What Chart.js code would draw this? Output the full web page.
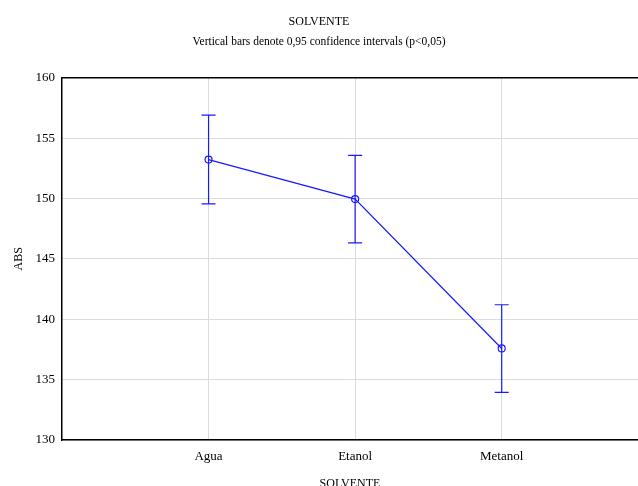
<!DOCTYPE html>
<html>
<head>
<meta charset="utf-8">
<script src="https://cdn.jsdelivr.net/npm/chart.js@4.4.0/dist/chart.umd.min.js"></script>
<style>
  html, body { margin: 0; padding: 0; background: #fff; overflow: hidden; }
  #wrap { width: 638px; height: 486px; overflow: hidden; }
  #box { width: 638px; height: 500px; }
</style>
</head>
<body>
<div id="wrap"><div id="box"><canvas id="c"></canvas></div></div>
<script>
const categories = ["Agua", "Etanol", "Metanol"];
const means = [153.22, 149.95, 137.58];
const lower = [149.55, 146.32, 133.95];
const upper = [156.90, 153.57, 141.20];
const yTicks = [130, 135, 140, 145, 150, 155, 160];

const BLUE = "#1a1aff";
const FONT = "'Liberation Serif', 'Times New Roman', serif";

const errorBars = {
  id: "errorBars",
  afterDatasetsDraw(chart) {
    const ctx = chart.ctx;
    const xs = chart.scales.x, ys = chart.scales.y;
    ctx.save();
    ctx.strokeStyle = BLUE;
    ctx.lineWidth = 1.2;
    const cap = 7;
    categories.forEach((c, i) => {
      const x = xs.getPixelForValue(i);
      const yl = ys.getPixelForValue(lower[i]);
      const yu = ys.getPixelForValue(upper[i]);
      ctx.beginPath();
      ctx.moveTo(x, yu); ctx.lineTo(x, yl);
      ctx.moveTo(x - cap, yu); ctx.lineTo(x + cap, yu);
      ctx.moveTo(x - cap, yl); ctx.lineTo(x + cap, yl);
      ctx.stroke();
    });
    ctx.restore();
  }
};

const topBorder = {
  id: "topBorder",
  afterDraw(chart) {
    const {ctx, chartArea} = chart;
    ctx.save();
    ctx.strokeStyle = "#000";
    ctx.lineWidth = 1.5;
    ctx.beginPath();
    ctx.moveTo(chartArea.left, chartArea.top);
    ctx.lineTo(chartArea.right, chartArea.top);
    ctx.stroke();
    ctx.restore();
  }
};

new Chart(document.getElementById("c"), {
  type: "line",
  data: {
    datasets: [{
      data: categories.map((c, i) => ({ x: i, y: means[i] })),
      borderColor: BLUE,
      borderWidth: 1.2,
      pointStyle: "circle",
      pointRadius: 3.5,
      pointBorderWidth: 1.2,
      pointBorderColor: BLUE,
      pointBackgroundColor: "rgba(0,0,0,0)",
      tension: 0
    }]
  },
  options: {
    responsive: true,
    maintainAspectRatio: false,
    animation: false,
    layout: { padding: 0, autoPadding: false },
    plugins: {
      legend: { display: false },
      tooltip: { enabled: false },
      title: {
        display: true,
        text: "SOLVENTE",
        color: "#000",
        font: { family: FONT, size: 12, weight: "normal", lineHeight: 1.2 },
        padding: { top: 15, bottom: 0 }
      },
      subtitle: {
        display: true,
        text: "Vertical bars denote 0,95 confidence intervals (p<0,05)",
        color: "#000",
        font: { family: FONT, size: 11.5, weight: "normal", lineHeight: 1.2 },
        padding: { top: 6, bottom: 28.5 }
      }
    },
    scales: {
      x: {
        type: "linear",
        min: -1,
        max: 2.93,
        afterBuildTicks(scale) {
          scale.ticks = categories.map((c, i) => ({ value: i }));
        },
        afterFit(scale) { scale.height = 60; },
        ticks: {
          color: "#000",
          font: { family: FONT, size: 13 },
          padding: 9,
          maxRotation: 0,
          autoSkip: false,
          callback: (v) => categories[v] !== undefined ? categories[v] : ""
        },
        grid: { color: "#dcdcdc", lineWidth: 1, drawTicks: false },
        border: { color: "#000", width: 1.5 },
        title: {
          display: true,
          text: "SOLVENTE",
          color: "#000",
          font: { family: FONT, size: 12, lineHeight: 1.2 },
          padding: { top: 0, bottom: 9.3 }
        }
      },
      y: {
        min: 130,
        max: 160,
        afterBuildTicks(scale) {
          scale.ticks = yTicks.map(v => ({ value: v }));
        },
        afterFit(scale) { scale.width = 62; },
        ticks: {
          color: "#000",
          font: { family: FONT, size: 13 },
          padding: 7
        },
        grid: { color: "#dcdcdc", lineWidth: 1, drawTicks: false },
        border: { color: "#000", width: 1.5 },
        title: {
          display: true,
          text: "ABS",
          color: "#000",
          font: { family: FONT, size: 12, lineHeight: 1.2 },
          padding: { top: 12, bottom: 0 }
        }
      }
    }
  },
  plugins: [errorBars, topBorder]
});
</script>
</body>
</html>
